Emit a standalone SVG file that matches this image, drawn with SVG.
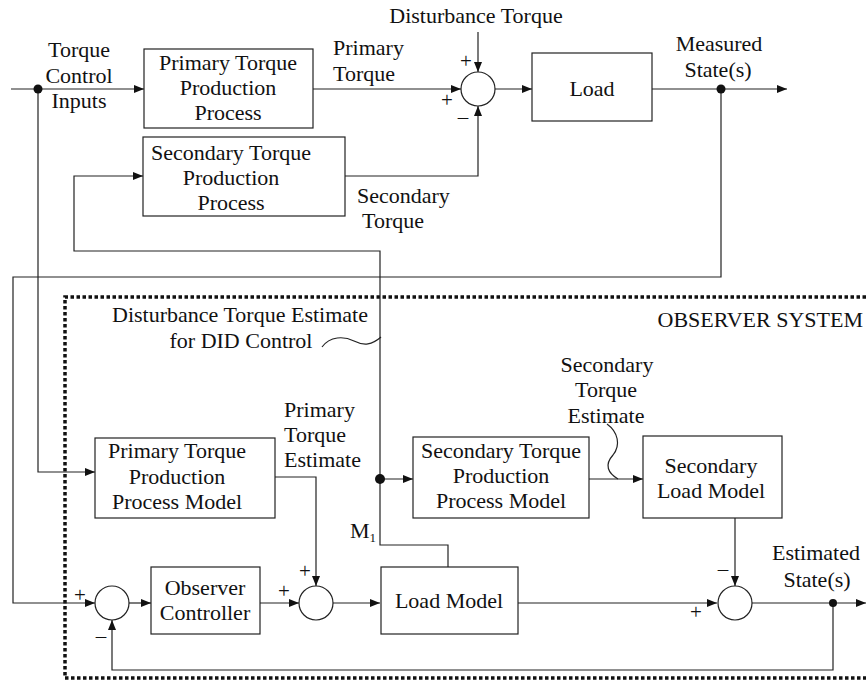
<svg xmlns="http://www.w3.org/2000/svg" width="866" height="681" viewBox="0 0 866 681" font-family="'Liberation Serif', 'Times New Roman', serif" font-size="22">
<style>
text{font-family:'Liberation Serif','Times New Roman',serif;font-size:22px;fill:#111}
.c{text-anchor:middle}
.s{font-size:21px;fill:#111}
.box{fill:#fff;stroke:#222;stroke-width:1.2}
.sum{fill:#fff;stroke:#222;stroke-width:1.2}
.ln{fill:none;stroke:#222;stroke-width:1.2}
.ar{fill:none;stroke:#222;stroke-width:1.2;marker-end:url(#ah)}
.dot{fill:#111}
</style>
<defs>
<marker id="ah" viewBox="0 0 10 8" refX="10" refY="4" markerWidth="10" markerHeight="8" markerUnits="userSpaceOnUse" orient="auto">
<path d="M0,0 L10,4 L0,8 z" fill="#111"/>
</marker>
</defs>
<rect width="866" height="681" fill="#fff"/>

<path id="observer-border" d="M866,297 H65 V678 H866" fill="none" stroke="#111" stroke-width="3.5" stroke-dasharray="3.5,2.5"/>

<g id="connectors">
<path class="ar" d="M11,89 H144"/>
<path class="ar" d="M38,89 V472 H95"/>
<path class="ar" d="M313,89 H461"/>
<path class="ar" d="M478,32 V72"/>
<path class="ar" d="M345,176 H478 V106"/>
<path class="ar" d="M495,89 H532"/>
<path class="ar" d="M652,89 H787"/>
<path class="ar" d="M721,89 V277 H13 V603 H95"/>
<path class="ar" d="M448,567 V545 H380 V251 H74 V176 H143"/>
<path class="ar" d="M380,479 H413"/>
<path class="ar" d="M275,477 H316 V586"/>
<path class="ar" d="M129,603 H151"/>
<path class="ar" d="M260,603 H299"/>
<path class="ar" d="M333,603 H380"/>
<path class="ar" d="M518,603 H717"/>
<path class="ar" d="M589,479 H643"/>
<path class="ar" d="M735,518 V586"/>
<path class="ar" d="M752,603 H866"/>
<path class="ar" d="M833,603 V670 H112 V620"/>
<path class="ln" d="M322,347 C330,336 344,336 354,341 S372,345 381,337"/>
<path class="ln" d="M607,424 C618,432 621,445 613,455 C604,465 608,473 618,479"/>
<circle class="dot" cx="38" cy="89" r="4.5"/>
<circle class="dot" cx="721" cy="89" r="4.5"/>
<circle class="dot" cx="380" cy="479" r="5"/>
<circle class="dot" cx="833" cy="603" r="4"/>
</g>

<g id="primary-process">
<rect class="box" x="144" y="49" width="169" height="79"/>
<text class="c" x="228" y="70">Primary Torque</text>
<text class="c" x="228" y="95">Production</text>
<text class="c" x="228" y="120">Process</text>
</g>

<g id="secondary-process">
<rect class="box" x="143" y="137" width="202" height="79"/>
<text class="c" x="231" y="160">Secondary Torque</text>
<text class="c" x="231" y="185">Production</text>
<text class="c" x="231" y="210">Process</text>
</g>

<g id="sum-top">
<circle class="sum" cx="478" cy="89" r="17"/>
<text class="c s" x="466" y="68">+</text>
<text class="c s" x="447" y="107">+</text>
<text class="c s" x="463" y="124">–</text>
</g>

<g id="load">
<rect class="box" x="532" y="53" width="120" height="68"/>
<text class="c" x="592" y="96">Load</text>
</g>

<g id="primary-model">
<rect class="box" x="95" y="438" width="180" height="80"/>
<text class="c" x="177" y="458">Primary Torque</text>
<text class="c" x="177" y="484">Production</text>
<text class="c" x="177" y="509">Process Model</text>
</g>

<g id="secondary-model">
<rect class="box" x="413" y="437" width="176" height="81"/>
<text class="c" x="501" y="458">Secondary Torque</text>
<text class="c" x="501" y="483">Production</text>
<text class="c" x="501" y="508">Process Model</text>
</g>

<g id="secondary-load-model">
<rect class="box" x="643" y="436" width="139" height="82"/>
<text class="c" x="711" y="473">Secondary</text>
<text class="c" x="711" y="498">Load Model</text>
</g>

<g id="sum1">
<circle class="sum" cx="112" cy="603" r="17"/>
<text class="c s" x="80" y="602">+</text>
<text class="c s" x="101" y="643">–</text>
</g>

<g id="observer-controller">
<rect class="box" x="151" y="567" width="109" height="67"/>
<text class="c" x="205" y="595">Observer</text>
<text class="c" x="205" y="620">Controller</text>
</g>

<g id="sum2">
<circle class="sum" cx="316" cy="603" r="17"/>
<text class="c s" x="284" y="598">+</text>
<text class="c s" x="305" y="578">+</text>
</g>

<g id="load-model">
<rect class="box" x="381" y="567" width="137" height="67"/>
<text class="c" x="449" y="608">Load Model</text>
</g>

<g id="sum3">
<circle class="sum" cx="735" cy="603" r="17"/>
<text class="c s" x="696" y="619">+</text>
<text class="c s" x="723" y="576">–</text>
</g>

<g id="labels">
<text class="c" x="79" y="57">Torque</text>
<text class="c" x="79" y="83">Control</text>
<text class="c" x="79" y="108">Inputs</text>
<text x="333" y="55">Primary</text>
<text x="333" y="81">Torque</text>
<text class="c" x="476" y="23">Disturbance Torque</text>
<text x="357" y="203">Secondary</text>
<text x="362" y="228">Torque</text>
<text class="c" x="719" y="51">Measured</text>
<text class="c" x="718" y="77">State(s)</text>
<text class="c" x="240" y="322">Disturbance Torque Estimate</text>
<text class="c" x="241" y="348">for DID Control</text>
<text x="863" y="327" text-anchor="end">OBSERVER SYSTEM</text>
<text x="284" y="417">Primary</text>
<text x="284" y="442">Torque</text>
<text x="284" y="467">Estimate</text>
<text class="c" x="607" y="372">Secondary</text>
<text class="c" x="606" y="397">Torque</text>
<text class="c" x="606" y="423">Estimate</text>
<text x="350" y="538">M<tspan font-size="13" dy="4">1</tspan></text>
<text class="c" x="816" y="560">Estimated</text>
<text class="c" x="817" y="587">State(s)</text>
</g>
</svg>
